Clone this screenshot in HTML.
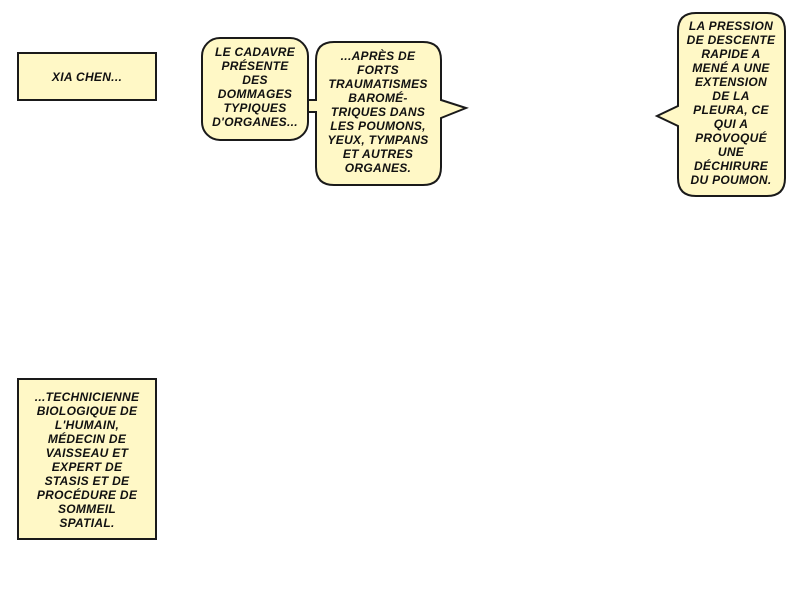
<!DOCTYPE html>
<html><head><meta charset="utf-8"><style>
html,body{margin:0;padding:0;background:#fff;}
svg{display:block}
text{font-family:"Liberation Sans",sans-serif;font-weight:bold;font-style:italic;font-size:12px;letter-spacing:0.3px;fill:#111;text-anchor:middle;}
</style></head><body>
<svg width="800" height="600" viewBox="0 0 800 600">
<g fill="#fff8c6" stroke="#1a1a1a" stroke-width="2">
<rect x="18" y="53" width="138" height="47"/>
<rect x="18" y="379" width="138" height="160"/>
<rect x="202" y="38" width="106" height="102" rx="18"/>
<path d="M334,42 H423 Q441,42 441,60 V100 L466,108 L441,118 V167 Q441,185 423,185 H334 Q316,185 316,167 V112 H308 V100 H316 V60 Q316,42 334,42 Z"/>
<path d="M696,13 H767 Q785,13 785,31 V178 Q785,196 767,196 H696 Q678,196 678,178 V126 L657,116 L678,106 V31 Q678,13 696,13 Z"/>
</g>
<text x="87" y="81">XIA CHEN...</text>
<text x="87" y="401"><tspan x="87">...TECHNICIENNE</tspan><tspan x="87" dy="14">BIOLOGIQUE DE</tspan><tspan x="87" dy="14">L'HUMAIN,</tspan><tspan x="87" dy="14">MÉDECIN DE</tspan><tspan x="87" dy="14">VAISSEAU ET</tspan><tspan x="87" dy="14">EXPERT DE</tspan><tspan x="87" dy="14">STASIS ET DE</tspan><tspan x="87" dy="14">PROCÉDURE DE</tspan><tspan x="87" dy="14">SOMMEIL</tspan><tspan x="87" dy="14">SPATIAL.</tspan></text>
<text x="255" y="56"><tspan x="255">LE CADAVRE</tspan><tspan x="255" dy="14">PRÉSENTE</tspan><tspan x="255" dy="14">DES</tspan><tspan x="255" dy="14">DOMMAGES</tspan><tspan x="255" dy="14">TYPIQUES</tspan><tspan x="255" dy="14">D'ORGANES...</tspan></text>
<text x="378" y="60"><tspan x="378">...APRÈS DE</tspan><tspan x="378" dy="14">FORTS</tspan><tspan x="378" dy="14">TRAUMATISMES</tspan><tspan x="378" dy="14">BAROMÉ-</tspan><tspan x="378" dy="14">TRIQUES DANS</tspan><tspan x="378" dy="14">LES POUMONS,</tspan><tspan x="378" dy="14">YEUX, TYMPANS</tspan><tspan x="378" dy="14">ET AUTRES</tspan><tspan x="378" dy="14">ORGANES.</tspan></text>
<text x="731" y="30"><tspan x="731">LA PRESSION</tspan><tspan x="731" dy="14">DE DESCENTE</tspan><tspan x="731" dy="14">RAPIDE A</tspan><tspan x="731" dy="14">MENÉ A UNE</tspan><tspan x="731" dy="14">EXTENSION</tspan><tspan x="731" dy="14">DE LA</tspan><tspan x="731" dy="14">PLEURA, CE</tspan><tspan x="731" dy="14">QUI A</tspan><tspan x="731" dy="14">PROVOQUÉ</tspan><tspan x="731" dy="14">UNE</tspan><tspan x="731" dy="14">DÉCHIRURE</tspan><tspan x="731" dy="14">DU POUMON.</tspan></text>
</svg>
</body></html>
